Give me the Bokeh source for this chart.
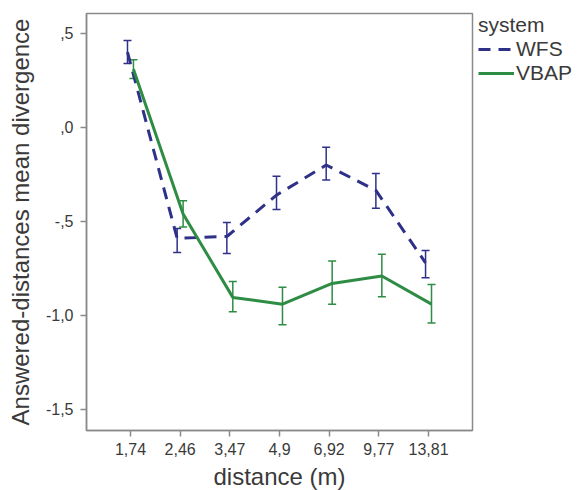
import numpy as np
from bokeh.plotting import figure
from bokeh.models import (ColumnDataSource, Range1d, Whisker, TeeHead, Legend, LegendItem,
                          FixedTicker)
from bokeh.embed import file_html
from bokeh.resources import INLINE

# ---- data ----
distances = ["1,74", "2,46", "3,47", "4,9", "6,92", "9,77", "13,81"]
wfs_mean = [0.40, -0.59, -0.58, -0.36, -0.20, -0.335, -0.72]
wfs_upper = [0.463, -0.537, -0.505, -0.26, -0.106, -0.245, -0.654]
wfs_lower = [0.34, -0.665, -0.67, -0.436, -0.28, -0.43, -0.80]
vbap_mean = [0.31, -0.46, -0.904, -0.94, -0.83, -0.79, -0.94]
vbap_upper = [0.36, -0.39, -0.82, -0.85, -0.71, -0.675, -0.835]
vbap_lower = [0.26, -0.53, -0.98, -1.05, -0.94, -0.90, -1.04]
y_ticks = [-1.5, -1.0, -0.5, 0.0, 0.5]
y_tick_labels = ["-1,5", "-1,0", "-,5", ",0", ",5"]

WFS_C = "#2f3189"
VBAP_C = "#2e8c44"
FONT = "Liberation Sans"
TXT = "#3a3a3a"

idx = [int(i) for i in range(len(distances))]
dodge = 0.06

p = figure(frame_width=386, frame_height=417, output_backend="svg", toolbar_location=None,
           x_range=Range1d(-0.885, 6.885), y_range=Range1d(-1.612, 0.606),
           min_border_left=86, min_border_right=110, min_border_top=13, min_border_bottom=60)
p.background_fill_color = "white"
p.border_fill_color = "white"
p.grid.visible = False
p.outline_line_color = "#8a8a8a"
p.outline_line_width = 1.5

for ax in (p.xaxis[0], p.yaxis[0]):
    ax.axis_line_color = "#8a8a8a"
    ax.axis_line_width = 1.5
    ax.major_tick_line_color = "#8a8a8a"
    ax.major_tick_line_width = 1.5
    ax.major_tick_out = 6
    ax.major_tick_in = 0
    ax.minor_tick_line_color = None
    ax.major_label_text_font = FONT
    ax.major_label_text_font_size = "16px"
    ax.major_label_text_color = TXT
    ax.axis_label_text_font = FONT
    ax.axis_label_text_font_style = "normal"
    ax.axis_label_text_color = TXT

p.xaxis.ticker = FixedTicker(ticks=idx)
p.xaxis.major_label_overrides = {i: d for i, d in zip(idx, distances)}
p.xaxis.axis_label = "distance (m)"
p.xaxis.axis_label_text_font_size = "24px"
p.xaxis.major_label_standoff = 6
p.xaxis.axis_label_standoff = 5

p.yaxis.ticker = FixedTicker(ticks=y_ticks)
p.yaxis.major_label_overrides = {t: l for t, l in zip(y_ticks, y_tick_labels)}
p.yaxis.axis_label = "Answered-distances mean divergence"
p.yaxis.axis_label_text_font_size = "24px"
p.yaxis.major_label_standoff = 7
p.yaxis.axis_label_standoff = 9

xw = [i - dodge for i in idx]
xv = [i + dodge for i in idx]
src_w = ColumnDataSource(dict(x=xw, y=wfs_mean, up=wfs_upper, lo=wfs_lower))
src_v = ColumnDataSource(dict(x=xv, y=vbap_mean, up=vbap_upper, lo=vbap_lower))

for src, col in ((src_w, WFS_C), (src_v, VBAP_C)):
    w = Whisker(base="x", upper="up", lower="lo", source=src, dimension="height",
                line_color=col, line_width=1.5,
                upper_head=TeeHead(size=8, line_color=col, line_width=1.5),
                lower_head=TeeHead(size=8, line_color=col, line_width=1.5))
    p.add_layout(w)

lw = p.line("x", "y", source=src_w, line_color=WFS_C, line_width=3, line_dash="12 8")
lv = p.line("x", "y", source=src_v, line_color=VBAP_C, line_width=3)

legend = Legend(items=[LegendItem(label="WFS", renderers=[lw]),
                       LegendItem(label="VBAP", renderers=[lv])],
                location=(6, 345), title="system",
                title_text_font=FONT, title_text_font_size="21px", title_text_color=TXT,
                title_text_font_style="normal", title_standoff=0,
                label_text_font=FONT, label_text_font_size="21px", label_text_color=TXT,
                glyph_width=36, glyph_height=18, label_height=18, label_standoff=2, spacing=0,
                border_line_color=None, background_fill_alpha=0, padding=0, margin=0)
p.add_layout(legend, "right")

open("out.html", "w").write(file_html(p, INLINE))
